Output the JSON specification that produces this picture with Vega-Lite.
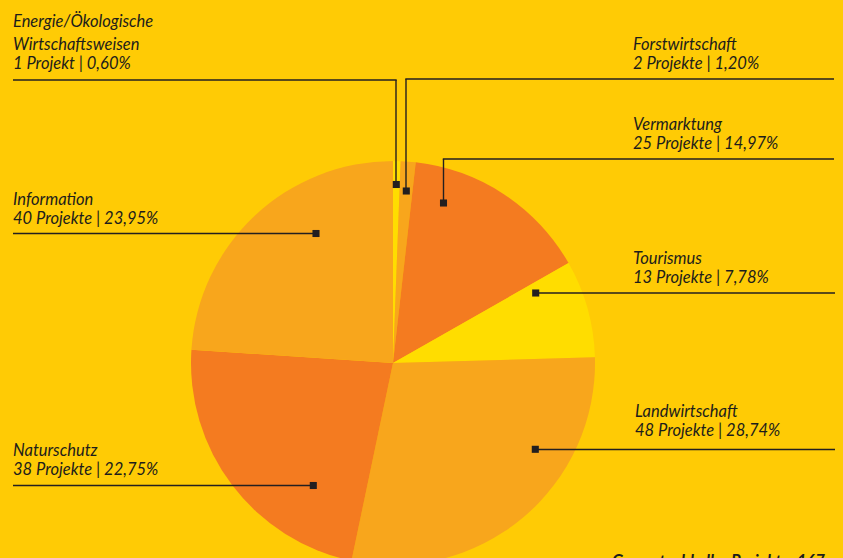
{
  "$schema": "https://vega.github.io/schema/vega-lite/v6.json",
  "width": 843,
  "height": 558,
  "padding": 0,
  "autosize": "none",
  "background": "#FFCB05",
  "config": {"view": {"stroke": null}},
  "datasets": {
    "slices": [
      {"bereich": "Energie/Ökologische Wirtschaftsweisen", "projekte": 1, "reihenfolge": 1},
      {"bereich": "Forstwirtschaft", "projekte": 2, "reihenfolge": 2},
      {"bereich": "Vermarktung", "projekte": 25, "reihenfolge": 3},
      {"bereich": "Tourismus", "projekte": 13, "reihenfolge": 4},
      {"bereich": "Landwirtschaft", "projekte": 48, "reihenfolge": 5},
      {"bereich": "Naturschutz", "projekte": 38, "reihenfolge": 6},
      {"bereich": "Information", "projekte": 40, "reihenfolge": 7}
    ],
    "segments": [
      {"x": 396, "y": 185, "x2": 396, "y2": 80},
      {"x": 396.7, "y": 80, "x2": 13, "y2": 80},
      {"x": 406, "y": 190, "x2": 406, "y2": 79},
      {"x": 405.3, "y": 79, "x2": 834, "y2": 79},
      {"x": 443.5, "y": 203, "x2": 443.5, "y2": 159},
      {"x": 442.8, "y": 159, "x2": 834, "y2": 159},
      {"x": 536, "y": 293, "x2": 835, "y2": 293},
      {"x": 535, "y": 449.5, "x2": 835, "y2": 449.5},
      {"x": 313, "y": 485.5, "x2": 13, "y2": 485.5},
      {"x": 316, "y": 233.5, "x2": 13, "y2": 233.5}
    ],
    "markers": [
      {"x": 396.3, "y": 184.5},
      {"x": 406.3, "y": 191},
      {"x": 443.5, "y": 203},
      {"x": 535.7, "y": 293},
      {"x": 535.3, "y": 449.3},
      {"x": 313.3, "y": 485.5},
      {"x": 316, "y": 233.5}
    ],
    "labels": [
      {"t": "Energie/Ökologische", "x": 13, "y": 27},
      {"t": "Wirtschaftsweisen", "x": 13, "y": 49.5},
      {"t": "1 Projekt | 0,60%", "x": 13, "y": 69},
      {"t": "Forstwirtschaft", "x": 633, "y": 49.5},
      {"t": "2 Projekte | 1,20%", "x": 633, "y": 68.5},
      {"t": "Vermarktung", "x": 633, "y": 130},
      {"t": "25 Projekte | 14,97%", "x": 633, "y": 149},
      {"t": "Information", "x": 13, "y": 205},
      {"t": "40 Projekte | 23,95%", "x": 13, "y": 224},
      {"t": "Tourismus", "x": 633, "y": 264},
      {"t": "13 Projekte | 7,78%", "x": 633, "y": 283},
      {"t": "Landwirtschaft", "x": 635, "y": 417},
      {"t": "48 Projekte | 28,74%", "x": 635, "y": 436},
      {"t": "Naturschutz", "x": 13, "y": 456},
      {"t": "38 Projekte | 22,75%", "x": 13, "y": 475}
    ],
    "footer": [
      {"t": "Gesamtzahl aller Projekte: 167", "x": 612, "y": 567}
    ]
  },
  "layer": [
    {
      "data": {"name": "slices"},
      "mark": {"type": "arc", "outerRadius": 202, "strokeWidth": 0},
      "encoding": {
        "theta": {"field": "projekte", "type": "quantitative", "stack": true},
        "order": {"field": "reihenfolge", "type": "quantitative"},
        "color": {
          "field": "bereich",
          "type": "nominal",
          "legend": null,
          "scale": {
            "domain": ["Energie/Ökologische Wirtschaftsweisen", "Forstwirtschaft", "Vermarktung", "Tourismus", "Landwirtschaft", "Naturschutz", "Information"],
            "range": ["#FFDD00", "#F8A61C", "#F47B20", "#FFDD00", "#F8A61C", "#F47B20", "#F8A61C"]
          }
        },
        "x": {"datum": 393, "type": "quantitative", "scale": {"domain": [0, 843], "nice": false, "zero": false}, "axis": null},
        "y": {"datum": 363, "type": "quantitative", "scale": {"domain": [0, 558], "nice": false, "zero": false, "reverse": true}, "axis": null}
      }
    },
    {
      "data": {"name": "segments"},
      "mark": {"type": "rule", "color": "#231F20", "strokeWidth": 1.4},
      "encoding": {
        "x": {"field": "x", "type": "quantitative", "scale": {"domain": [0, 843], "nice": false, "zero": false}, "axis": null},
        "y": {"field": "y", "type": "quantitative", "scale": {"domain": [0, 558], "nice": false, "zero": false, "reverse": true}, "axis": null},
        "x2": {"field": "x2"},
        "y2": {"field": "y2"}
      }
    },
    {
      "data": {"name": "markers"},
      "mark": {"type": "point", "shape": "square", "filled": true, "size": 50, "color": "#231F20", "opacity": 1, "strokeWidth": 0},
      "encoding": {
        "x": {"field": "x", "type": "quantitative", "scale": {"domain": [0, 843], "nice": false, "zero": false}, "axis": null},
        "y": {"field": "y", "type": "quantitative", "scale": {"domain": [0, 558], "nice": false, "zero": false, "reverse": true}, "axis": null}
      }
    },
    {
      "data": {"name": "labels"},
      "mark": {"type": "text", "align": "left", "baseline": "alphabetic", "font": "Lato", "fontStyle": "italic", "fontSize": 16.5, "color": "#1D1D1B"},
      "encoding": {
        "x": {"field": "x", "type": "quantitative", "scale": {"domain": [0, 843], "nice": false, "zero": false}, "axis": null},
        "y": {"field": "y", "type": "quantitative", "scale": {"domain": [0, 558], "nice": false, "zero": false, "reverse": true}, "axis": null},
        "text": {"field": "t", "type": "nominal"}
      }
    },
    {
      "data": {"name": "footer"},
      "mark": {"type": "text", "align": "left", "baseline": "alphabetic", "font": "Lato", "fontStyle": "italic", "fontWeight": "bold", "fontSize": 16.5, "color": "#1D1D1B"},
      "encoding": {
        "x": {"field": "x", "type": "quantitative", "scale": {"domain": [0, 843], "nice": false, "zero": false}, "axis": null},
        "y": {"field": "y", "type": "quantitative", "scale": {"domain": [0, 558], "nice": false, "zero": false, "reverse": true}, "axis": null},
        "text": {"field": "t", "type": "nominal"}
      }
    }
  ]
}
